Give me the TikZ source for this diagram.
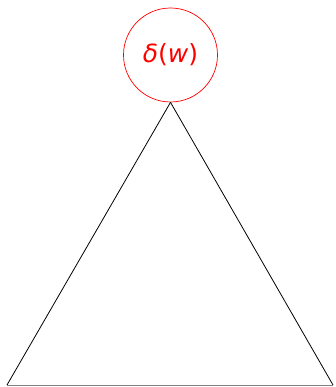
\documentclass[tikz,border=0pt]{standalone}
\usepackage{fontspec}
\setmainfont{DejaVu Sans}
\begin{document}
\begin{tikzpicture}[x=1pt,y=-1pt,
  rootnode/.style={circle,draw=red,text=red,minimum size=94pt,inner sep=0pt,line width=0.7pt,font=\fontsize{25}{28}\selectfont},
  edge/.style={draw=black,line width=0.8pt}]
\useasboundingbox (0,0) rectangle (335,387);
\node[rootnode] (w) at (170.5,55) {\textit{δ}(\textit{w})};
\coordinate (l) at (7,385);
\coordinate (r) at (333,385);
\draw[edge] (w.south) -- (l);
\draw[edge] (w.south) -- (r);
\draw[draw=gray,line width=0.8pt] (l) -- (r);
\end{tikzpicture}
\end{document}
